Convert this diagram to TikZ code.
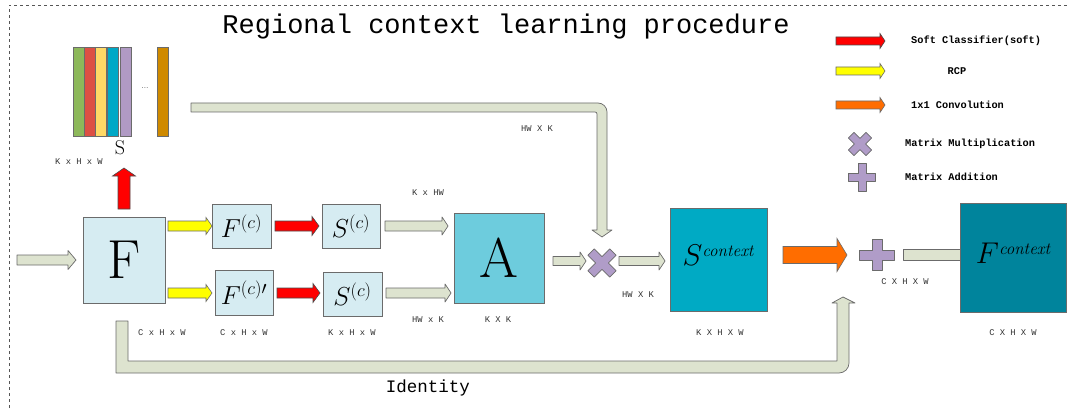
\RequirePackage{fix-cm}
\documentclass[tikz,border=0pt]{standalone}
\usepackage{fontspec}
\newfontfamily\monof{Liberation Mono}
\definecolor{agray}{HTML}{DDE3CF}
\definecolor{edgegray}{HTML}{6B6B6B}
\definecolor{boxblue}{HTML}{D6ECF2}
\definecolor{aBlue}{HTML}{6DCCDD}
\definecolor{sBlue}{HTML}{00AAC4}
\definecolor{fBlue}{HTML}{00849C}
\definecolor{redA}{HTML}{FF0000}
\definecolor{yelA}{HTML}{FFFF00}
\definecolor{oraA}{HTML}{FF6D00}
\definecolor{purp}{HTML}{B09CC8}
\definecolor{barA}{HTML}{8DB85A}
\definecolor{barB}{HTML}{DD5044}
\definecolor{barC}{HTML}{FFD966}
\definecolor{barD}{HTML}{00A8C6}
\definecolor{barE}{HTML}{B09AC4}
\definecolor{barF}{HTML}{CF8A00}
\definecolor{lbl}{HTML}{333333}
\newcommand\blockR[7]{\draw[#7] (#1,#3-#4) -- (#2-#6,#3-#4) -- (#2-#6,#3-#5) -- (#2,#3) -- (#2-#6,#3+#5) -- (#2-#6,#3+#4) -- (#1,#3+#4) -- cycle;}
\newcommand\plusmark[5]{\draw[plusst] (#1-#5,#2-#4) -- (#1+#5,#2-#4) -- (#1+#5,#2-#5) -- (#1+#3,#2-#5) -- (#1+#3,#2+#5) -- (#1+#5,#2+#5) -- (#1+#5,#2+#4) -- (#1-#5,#2+#4) -- (#1-#5,#2+#5) -- (#1-#3,#2+#5) -- (#1-#3,#2-#5) -- (#1-#5,#2-#5) -- cycle;}
\tikzset{
  gArrow/.style={draw=edgegray,fill=agray,line width=0.7pt,line join=round},
  rArrow/.style={draw=edgegray!70!black,fill=redA,line width=0.6pt},
  yArrow/.style={draw=edgegray,fill=yelA,line width=0.6pt},
  oArrow/.style={draw=edgegray,fill=oraA,line width=0.6pt},
  plusst/.style={draw=edgegray,fill=purp,line width=0.7pt,line join=round},
  box/.style={draw=edgegray,line width=0.8pt,inner sep=0pt,anchor=center},
  bar/.style={draw=edgegray,line width=0.8pt},
  small/.style={font=\monof\fontsize{8.8}{9}\selectfont,text=lbl,inner sep=0pt},
  legtxt/.style={font=\monof\bfseries\fontsize{10.3}{10}\selectfont,anchor=west,inner sep=0pt},
}
\begin{document}
\begin{tikzpicture}[x=1pt,y=-1pt]
\clip (0,0) rectangle (1067,409);
\fill[white] (0,0) rectangle (1067,409);
\draw[edgegray!80!black,dashed,line width=0.6pt] (9,420) -- (9,5) -- (1080,5);

\node[font=\monof\fontsize{27}{27}\selectfont,inner sep=0pt] (title) at (506,27) {Regional context learning procedure};

% S bars
\draw[bar,fill=barA] (73,47) rectangle (84,136);
\draw[bar,fill=barB] (84,47) rectangle (95,136);
\draw[bar,fill=barC] (95,47) rectangle (106.5,136);
\draw[bar,fill=barD] (107.5,47) rectangle (118.5,136);
\draw[bar,fill=barE] (120,47) rectangle (131,136);
\draw[bar,fill=barF] (157,47) rectangle (168,136);
\node[font=\fontsize{8}{8}\selectfont,inner sep=0pt] (dots) at (145,88) {...};
\node[font=\fontsize{20}{20}\selectfont,inner sep=0pt] (Slab) at (120,148) {S};
\node[small] (khw1) at (79,162) {K x H x W};

% boxes
\node[box,fill=boxblue,minimum width=82pt,minimum height=86pt] (F) at (124,260) {\fontsize{55}{55}\selectfont F};
\node[box,fill=boxblue,minimum width=59pt,minimum height=44pt] (Fc) at (241.5,226) {\fontsize{26}{26}\selectfont$F^{(c)}$};
\node[box,fill=boxblue,minimum width=58pt,minimum height=45pt] (Fcp) at (244,292.5) {\fontsize{26}{26}\selectfont$F^{(c)\prime}$};
\node[box,fill=boxblue,minimum width=58pt,minimum height=44pt] (Sc1) at (351,226) {\fontsize{26}{26}\selectfont$S^{(c)}$};
\node[box,fill=boxblue,minimum width=59pt,minimum height=44pt] (Sc2) at (352.5,294) {\fontsize{26}{26}\selectfont$S^{(c)}$};
\node[box,fill=aBlue,minimum width=90pt,minimum height=90pt] (A) at (499,258) {\fontsize{56}{56}\selectfont A};
\node[box,fill=sBlue,minimum width=97pt,minimum height=103pt] (Sctx) at (718.5,259.5) {};
\node[inner sep=0pt] (Sctxl) at (718,255) {{\fontsize{30}{30}\selectfont$S$}\raisebox{9pt}{\fontsize{17}{17}\selectfont\itshape context}};
\node[box,fill=fBlue,minimum width=106pt,minimum height=109pt] (Fctx) at (1013,257.5) {};
\node[inner sep=0pt] (Fctxl) at (1013,253) {{\fontsize{30}{30}\selectfont$F$}\raisebox{9pt}{\fontsize{17}{17}\selectfont\itshape context}};

% arrows
\blockR{17}{76}{260}{5}{9.5}{8}{gArrow}
\draw[rArrow] (118,209) -- (118,176) -- (112.5,176) -- (124,168) -- (135.5,176) -- (130,176) -- (130,209) -- cycle;
\blockR{168}{212}{226}{5}{8.5}{6}{yArrow}
\blockR{168}{212}{293}{5}{8.5}{6}{yArrow}
\blockR{275}{319}{226}{5}{9.5}{7}{rArrow}
\blockR{277}{320}{293}{5}{9.5}{7}{rArrow}
\blockR{385}{448}{226}{5}{9}{6}{gArrow}
\blockR{386}{451}{293}{5}{9}{6}{gArrow}
\blockR{553}{586}{261}{4.5}{9}{6}{gArrow}
\blockR{619}{665}{261}{4.5}{9}{6}{gArrow}
\blockR{783}{847}{255}{8.5}{16.5}{10}{oArrow}
\draw[gArrow] (903,249) rectangle (960,260);

% top path S -> x
\draw[gArrow] (191,103) [rounded corners=9pt]-- (607,103) [sharp corners]-- (607,230) -- (612,230) -- (602,237) -- (592,230) -- (597,230) [rounded corners=2pt]-- (597,112) [sharp corners]-- (191,112) -- cycle;
\node[small] (hwk1) at (537,129) {HW X K};

% identity path
\draw[gArrow] (116,321) -- (128,321) -- (128,361) -- (837,361) -- (837,303) -- (832,303) -- (843,297) -- (855,303) -- (849,303) [rounded corners=10pt]-- (849,373) [sharp corners]-- (116,373) -- cycle;
\node[font=\monof\fontsize{17.5}{18}\selectfont,inner sep=0pt] (ident) at (428,388) {Identity};

% operators
\begin{scope}[shift={(602,263)},rotate=45]
\plusmark{0}{0}{15.5}{15.5}{4.5}
\end{scope}
\plusmark{877}{255}{17.5}{15.5}{5}

% labels
\node[small] (l1) at (428,193) {K x HW};
\node[small] (l2) at (428,320) {HW x K};
\node[small] (l3) at (162,333) {C x H x W};
\node[small] (l4) at (244,333) {C x H x W};
\node[small] (l5) at (352,333) {K x H x W};
\node[small] (l6) at (498,320) {K X K};
\node[small] (l7) at (638,295) {HW X K};
\node[small] (l8) at (720,333) {K X H X W};
\node[small] (l9) at (905,282) {C X H X W};
\node[small] (l10) at (1013,333) {C X H X W};

% legend
\blockR{836}{885}{41}{4}{7.5}{5}{rArrow}
\blockR{836}{885}{71}{4}{7.5}{5}{yArrow}
\blockR{836}{885}{105}{4}{7.5}{5}{oArrow}
\begin{scope}[shift={(860,144)},rotate=45]
\plusmark{0}{0}{12.5}{12.5}{4}
\end{scope}
\plusmark{862}{177}{13.5}{14}{4}
\node[legtxt] (lg1) at (911,41) {Soft Classifier(soft)};
\node[legtxt,anchor=center] (lg2) at (957,71) {RCP};
\node[legtxt] (lg3) at (911,105) {1x1 Convolution};
\node[legtxt] (lg4) at (905,144) {Matrix Multiplication};
\node[legtxt] (lg5) at (905,177) {Matrix Addition};
\end{tikzpicture}
\end{document}
